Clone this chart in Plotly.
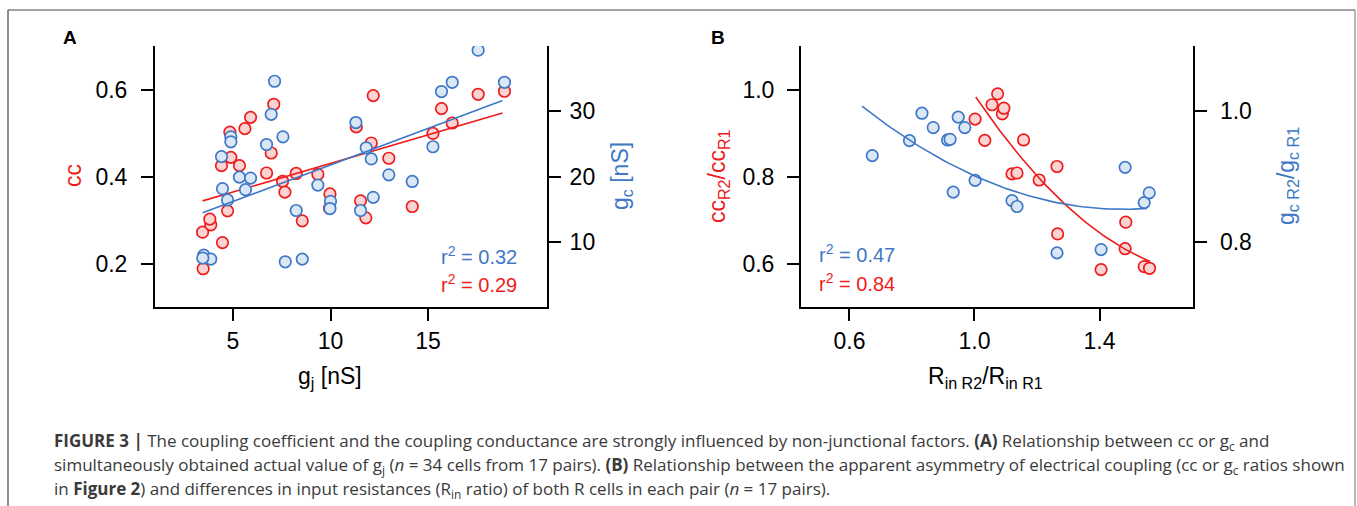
import numpy as np
import plotly.graph_objects as go

# ---------------- Data ----------------
# Panel A: cc (red, left axis) and gc (blue, right axis) vs gj
a_gj_cc = [3.47, 3.44, 3.86, 3.81, 4.46, 4.72, 4.41, 4.89, 5.33, 4.84, 5.61, 5.90,
           7.09, 6.96, 6.72, 7.54, 7.66, 8.24, 8.55, 9.35, 9.97, 9.95, 11.54, 11.81,
           11.32, 12.19, 12.09, 12.99, 14.19, 15.25, 15.69, 16.24, 17.57, 18.92]
a_cc = [0.188, 0.272, 0.289, 0.302, 0.248, 0.321, 0.425, 0.444, 0.425, 0.502, 0.510, 0.536,
        0.566, 0.454, 0.408, 0.389, 0.364, 0.407, 0.298, 0.405, 0.360, 0.327, 0.344, 0.305,
        0.514, 0.586, 0.477, 0.442, 0.331, 0.499, 0.556, 0.523, 0.589, 0.596]
a_gj_gc = [3.50, 3.86, 3.45, 4.46, 4.72, 4.41, 4.89, 4.89, 5.33, 5.90, 5.64, 7.13, 6.96,
           6.72, 7.56, 7.68, 8.55, 8.24, 9.35, 10.0, 9.97, 11.30, 11.54, 11.83, 12.09,
           12.19, 12.99, 14.19, 15.25, 15.69, 16.24, 17.57, 18.92]
a_gc = [7.95, 7.34, 7.50, 18.13, 16.41, 23.04, 26.08, 25.32, 19.90, 19.76, 17.98, 34.60, 29.53,
        24.90, 26.08, 6.93, 7.34, 14.79, 18.69, 16.20, 15.09, 28.27, 14.79, 24.40, 22.69,
        16.81, 20.26, 19.24, 24.56, 33.02, 34.44, 39.36, 34.44]
# linear fits (slope, intercept) and x extent
a_fit_cc = (0.01313, 0.2988)
a_fit_gc = (1.119, 10.59)
a_fit_x = (3.44, 18.82)
a_r2_gc = "0.32"
a_r2_cc = "0.29"

# Panel B: ratios vs Rin ratio
b_rin_gc = [0.673, 0.792, 0.832, 0.868, 0.914, 0.922, 0.948, 0.969, 0.932, 1.002, 1.120,
            1.136, 1.264, 1.405, 1.482, 1.543, 1.559]
b_gc = [0.932, 0.955, 0.997, 0.975, 0.956, 0.957, 0.991, 0.975, 0.876, 0.894, 0.863,
        0.854, 0.783, 0.788, 0.914, 0.860, 0.875]
b_rin_cc = [1.002, 1.033, 1.074, 1.056, 1.089, 1.094, 1.157, 1.120, 1.136, 1.207, 1.264,
            1.266, 1.405, 1.484, 1.482, 1.543, 1.560]
b_cc = [0.932, 0.883, 0.990, 0.965, 0.944, 0.957, 0.884, 0.806, 0.808, 0.792, 0.823,
        0.668, 0.586, 0.695, 0.634, 0.593, 0.589]
# quadratic fits (a, b, c) and x extents
b_fit_gc = (0.2267, -0.669, 1.3433)
b_fit_gc_x = (0.64, 1.552)
b_fit_cc = (0.683, -2.430, 2.734)
b_fit_cc_x = (1.004, 1.562)
b_r2_gc = "0.47"
b_r2_cc = "0.84"

# ---------------- Styling ----------------
W, H = 1357, 506
RED = "#ee1c1c"
RED_FILL = "#fbd3d3"
BLUE = "#3e78c6"
BLUE_FILL = "#dce7f6"
FONT = "Liberation Sans, Arial, sans-serif"
CAP_FONT = "Open Sans, Liberation Sans, sans-serif"
TICK_SIZE = 23


def px(x):
    return x / W


def py(y):
    return 1 - y / H


fig = go.Figure()

mk_red = dict(size=11.5, color=RED_FILL, line=dict(color=RED, width=1.7))
mk_blue = dict(size=11.5, color=BLUE_FILL, line=dict(color=BLUE, width=1.7))

# Panel A
fig.add_trace(go.Scatter(x=a_gj_cc, y=a_cc, mode="markers", marker=mk_red,
                         xaxis="x", yaxis="y", showlegend=False))
xa = np.linspace(a_fit_x[0], a_fit_x[1], 50)
fig.add_trace(go.Scatter(x=xa, y=a_fit_cc[0] * xa + a_fit_cc[1], mode="lines",
                         line=dict(color=RED, width=1.6), xaxis="x", yaxis="y", showlegend=False))
fig.add_trace(go.Scatter(x=a_gj_gc, y=a_gc, mode="markers", marker=mk_blue,
                         xaxis="x", yaxis="y2", showlegend=False))
fig.add_trace(go.Scatter(x=xa, y=a_fit_gc[0] * xa + a_fit_gc[1], mode="lines",
                         line=dict(color=BLUE, width=1.6), xaxis="x", yaxis="y2", showlegend=False))

# Panel B
fig.add_trace(go.Scatter(x=b_rin_cc, y=b_cc, mode="markers", marker=mk_red,
                         xaxis="x2", yaxis="y3", showlegend=False))
xb1 = np.linspace(b_fit_cc_x[0], b_fit_cc_x[1], 80)
fig.add_trace(go.Scatter(x=xb1, y=b_fit_cc[0] * xb1 ** 2 + b_fit_cc[1] * xb1 + b_fit_cc[2],
                         mode="lines", line=dict(color=RED, width=1.6),
                         xaxis="x2", yaxis="y3", showlegend=False))
fig.add_trace(go.Scatter(x=b_rin_gc, y=b_gc, mode="markers", marker=mk_blue,
                         xaxis="x2", yaxis="y4", showlegend=False))
xb2 = np.linspace(b_fit_gc_x[0], b_fit_gc_x[1], 80)
fig.add_trace(go.Scatter(x=xb2, y=b_fit_gc[0] * xb2 ** 2 + b_fit_gc[1] * xb2 + b_fit_gc[2],
                         mode="lines", line=dict(color=BLUE, width=1.6),
                         xaxis="x2", yaxis="y4", showlegend=False))

ax_common = dict(showline=True, linecolor="black", linewidth=2, ticks="outside",
                 ticklen=12, tickwidth=2, tickcolor="black", showgrid=False, zeroline=False,
                 tickfont=dict(family=FONT, size=TICK_SIZE, color="black"), fixedrange=True)

dA = [px(155), px(547)]
dB = [px(801), px(1193.3)]
dy = [py(307), py(46)]

fig.update_layout(
    width=W, height=H, margin=dict(l=0, r=0, t=0, b=0),
    paper_bgcolor="white", plot_bgcolor="white",
    xaxis=dict(domain=dA, range=[1.0, 21.1], tickvals=[5, 10, 15], anchor="y", **ax_common),
    yaxis=dict(domain=dy, range=[0.1, 0.7], tickvals=[0.2, 0.4, 0.6], tickformat=".1f",
               anchor="x", ticklabelstandoff=9, **ax_common),
    yaxis2=dict(domain=dy, range=[0, 40], tickvals=[10, 20, 30], overlaying="y", side="right",
                anchor="x", ticklabelstandoff=4, **ax_common),
    xaxis2=dict(domain=dB, range=[0.445, 1.70], tickvals=[0.6, 1.0, 1.4], tickformat=".1f",
                anchor="y3", **ax_common),
    yaxis3=dict(domain=dy, range=[0.5, 1.1], tickvals=[0.6, 0.8, 1.0], tickformat=".1f",
                anchor="x2", ticklabelstandoff=8, **ax_common),
    yaxis4=dict(domain=dy, range=[0.70, 1.10], tickvals=[0.8, 1.0], tickformat=".1f",
                overlaying="y3", side="right", anchor="x2", ticklabelstandoff=8, **ax_common),
)

ann = []


def add_text(x, y, text, size, color="black", xanchor="center", yanchor="middle", angle=0,
             family=FONT):
    ann.append(dict(x=px(x), y=py(y), xref="paper", yref="paper", text=text, showarrow=False,
                    xanchor=xanchor, yanchor=yanchor, textangle=angle,
                    font=dict(family=family, size=size, color=color)))


# panel labels
add_text(70, 37, "<b>A</b>", 19)
add_text(718, 37, "<b>B</b>", 19)

# axis titles
add_text(330, 377, "g<sub>j</sub> [nS]", 23)
add_text(73, 176, "cc", 23, RED, angle=-90)
add_text(621, 176, "g<sub>c</sub> [nS]", 23, BLUE, angle=-90)
add_text(985, 377, "R<sub>in R2</sub>/R<sub>in R1</sub>", 23)
add_text(718, 176, "cc<sub>R2</sub>/cc<sub>R1</sub>", 23, RED, angle=-90)
add_text(1287, 176, "g<sub>c R2</sub>/g<sub>c R1</sub>", 23, BLUE, angle=-90)

# r^2 labels
add_text(519, 255, "r<sup>2</sup> = " + a_r2_gc, 20, BLUE, xanchor="right")
add_text(519, 283, "r<sup>2</sup> = " + a_r2_cc, 20, RED, xanchor="right")
add_text(817, 253, "r<sup>2</sup> = " + b_r2_gc, 20, BLUE, xanchor="left")
add_text(817, 282, "r<sup>2</sup> = " + b_r2_cc, 20, RED, xanchor="left")

# caption
CAP = "#3a3a3a"
cap_lines = [
    "<b>FIGURE 3 |</b> The coupling coefficient and the coupling conductance are strongly influenced "
    "by non-junctional factors. <b>(A)</b> Relationship between cc or g<sub>c</sub> and",
    "simultaneously obtained actual value of g<sub>j</sub> (<i>n</i> = 34 cells from 17 pairs). "
    "<b>(B)</b> Relationship between the apparent asymmetry of electrical coupling "
    "(cc or g<sub>c</sub> ratios shown",
    "in <b>Figure 2</b>) and differences in input resistances (R<sub>in</sub> ratio) of both R cells "
    "in each pair (<i>n</i> = 17 pairs).",
]
for i, t in enumerate(cap_lines):
    add_text(52, 441 + 24 * i, t, 17, CAP, xanchor="left", family=CAP_FONT)

fig.update_layout(annotations=ann)

# outer frame
fig.add_shape(type="line", xref="paper", yref="paper", x0=px(8), x1=px(8), y0=py(10), y1=-0.05,
              line=dict(color="#444444", width=1.2))
fig.add_shape(type="line", xref="paper", yref="paper", x0=px(8), x1=px(1355), y0=py(10), y1=py(10),
              line=dict(color="#444444", width=1.2))
fig.add_shape(type="line", xref="paper", yref="paper", x0=px(1355), x1=px(1355), y0=py(10), y1=-0.05,
              line=dict(color="#888888", width=1.2))

fig.write_html("out.html", config={"displayModeBar": False},
               post_script="document.body.style.margin='0px';"
               "document.body.style.overflow='hidden';")
